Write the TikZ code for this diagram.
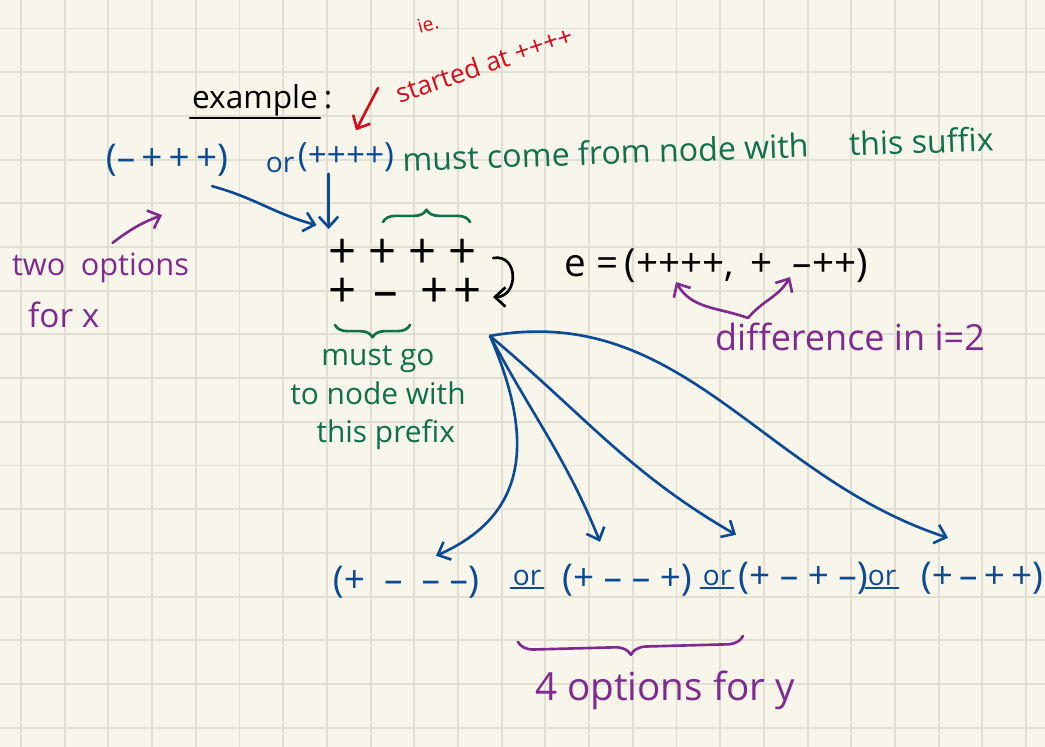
\documentclass[tikz,border=0pt]{standalone}
\usepackage{fontspec}
\setmainfont{Open Sans}
\usetikzlibrary{arrows.meta,calc,decorations.pathreplacing}

\definecolor{paper}{RGB}{248,246,234}
\definecolor{gridline}{RGB}{225,223,210}
\definecolor{inkblue}{RGB}{12,74,148}
\definecolor{inkgreen}{RGB}{16,112,74}
\definecolor{inkpurple}{RGB}{126,42,142}
\definecolor{inkred}{RGB}{214,10,28}

\begin{document}
\begin{tikzpicture}[
  x=0.02cm, y=-0.02cm,
  >={Straight Barb[length=6pt,width=11pt]},
  every node/.style={inner sep=1pt},
  ink/.style={line width=1.5pt, line cap=round, line join=round},
  sign/.style={inner sep=0pt, text height=12pt, text depth=0pt, font=\fontsize{28}{28}\selectfont},
  tup/.style={text=inkblue, font=\fontsize{21}{24}\selectfont},
  orw/.style={text=inkblue, font=\fontsize{16}{18}\selectfont},
  note/.style={text=inkgreen, font=\fontsize{17}{22}\selectfont, align=center},
  hint/.style={text=inkpurple, font=\fontsize{19}{24}\selectfont},
  brc/.style={ink, decorate, decoration={brace, amplitude=7pt}}
]
  % paper
  \fill[paper] (0,0) rectangle (1045,747);
  \useasboundingbox (0,0) rectangle (1045,747);
  \foreach \i in {0,...,23}
    \draw[gridline, line width=1.1pt] ({21+43.7*\i},0) -- ({21+43.7*\i},747);
  \foreach \i in {0,...,16}
    \draw[gridline, line width=1.1pt] (0,{28.5+43.7*\i}) -- (1045,{28.5+43.7*\i});

  % heading
  \node[font=\fontsize{18}{20}\selectfont] (ex) at (255,100) {example};
  \node[font=\fontsize{18}{20}\selectfont, anchor=west] (colon) at ([xshift=1pt]ex.east) {:};
  \draw[ink] (ex.south west) -- (ex.south east);
  \node[text=inkred, font=\fontsize{11}{12}\selectfont, rotate=15] (ie) at (428,24) {ie.};
  \node[text=inkred, font=\fontsize{15}{18}\selectfont, rotate=19] (started) at (484,64) {started at ++++};
  \coordinate (redtail) at (378,88);

  % the two x options
  \node[tup] (xa) at (167,160) {(–\,+\,+\,+)};
  \node[orw] (or0) at (280,165) {or};
  \node[tup, font=\fontsize{19}{22}\selectfont] (xb) at (346,157) {(++++)};
  \node[note, rotate=2, font=\fontsize{18.3}{22}\selectfont] (suffix) at (698,149) {must come from node with\quad\ this suffix};
  \draw[ink, inkred, ->] (redtail) -- ($(xb.north)+(10,-10)$);

  % the edge
  \foreach \s [count=\i] in {+,+,+,+}
    \node[sign] (u\i) at ({303+40*\i},258) {\s};
  \foreach \s/\x [count=\i] in {+/343, –/386, +/435, +/468}
    \node[sign] (v\i) at (\x,297) {\s};
  \draw[ink, ->] ([xshift=9pt]u4.east) to[out=10, in=0, looseness=1.7] ([xshift=6pt]v4.east);
  \draw[ink, inkblue, ->] ([xshift=-10pt]xb.south) -- ($(u1.north west)+(0,-18)$);
  \draw[ink, inkblue, ->] ($(xa.south east)+(-18,8)$) to[out=-15, in=165] ($(u1.north west)+(-12,-22)$);
  \draw[ink, inkgreen, brc] (383,222) -- (470,222);
  \draw[ink, inkgreen, brc, decoration={mirror}] (335,325) -- (410,325);
  \node[note] (prefix) at (378,398) {must go\\to node with\\\ \ this prefix};

  \node[font=\fontsize{22}{24}\selectfont] (e) at (716,266) {e =\,(++++,\, + \ –++)};
  \node[hint, font=\fontsize{20.5}{24}\selectfont] (diff) at (850,337) {difference in i=2};
  \coordinate (dmeet) at (748,318);
  \draw[ink, inkpurple, ->] (dmeet) to[out=160, in=-60] (676,282);
  \draw[ink, inkpurple, ->] (dmeet) to[out=50, in=-120] (790,277);

  % hint for x
  \node[hint, anchor=west, font=\fontsize{17.5}{22}\selectfont] (two) at (10,268) {two\enspace options};
  \node[hint, anchor=west] (forx) at (26,315) {for x};
  \coordinate (xhint) at (162,215);
  \draw[ink, inkpurple, ->] ($(two.north)+(12,-8)$) to[bend left=8] (xhint);

  % the four y options
  \node[tup] (t1) at (406,582) {(+ \ – \ – –)};
  \node[tup] (t2) at (627,580) {(+ – – +)};
  \node[tup] (t3) at (803,578) {(+ – + –)};
  \node[tup] (t4) at (982,578) {(+\,–\,+\,+)};
  \foreach \n/\x in {1/527,2/717,3/882} {
    \node[orw] (or\n) at (\x,578) {or};
    \draw[ink, inkblue] (or\n.south west) -- (or\n.south east);
  }
  \coordinate (fan) at ($(v4.south)+(22,28)$);
  \draw[ink, inkblue, ->] (fan) .. controls (535,440) and (528,515) .. ($(t1.north)+(30,-8)$);
  \draw[ink, inkblue, ->] (fan) to[out=-62, in=112] ($(t2.north)+(-27,-20)$);
  \draw[ink, inkblue, ->] (fan) to[out=-40, in=150] ($(t3.north west)+(0,-25)$);
  \draw[ink, inkblue, ->] (fan) to[out=10, in=162] ($(t4.north)+(-34,-22)$);

  \draw[ink, inkpurple, brc, decoration={mirror, amplitude=9pt}] (518,642) -- (743,636);
  \node[hint, font=\fontsize{22}{26}\selectfont] (yopt) at (665,690) {4 options for y};
\end{tikzpicture}
\end{document}
